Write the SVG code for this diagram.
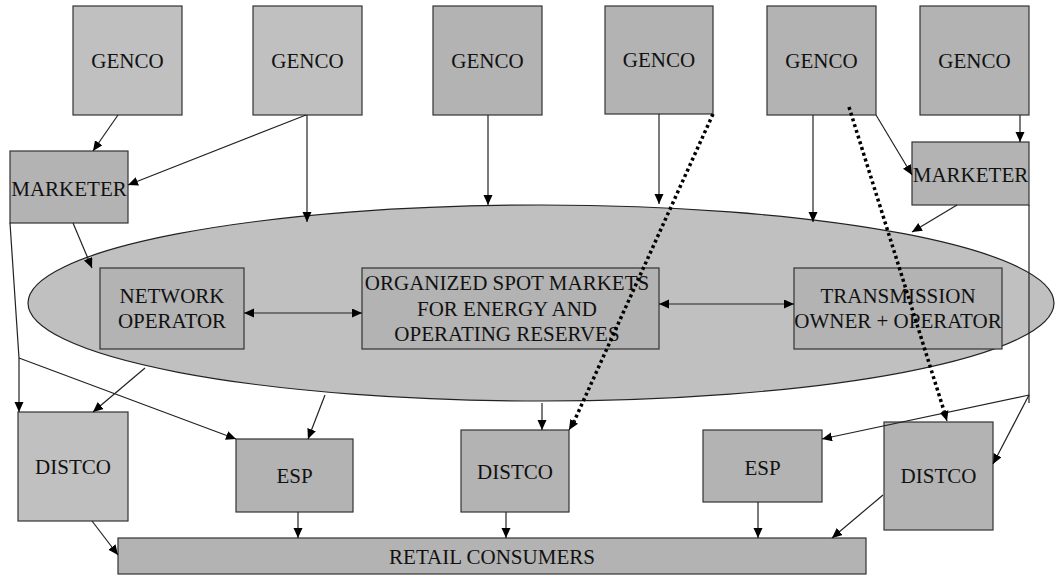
<svg xmlns="http://www.w3.org/2000/svg" width="1055" height="576" viewBox="0 0 1055 576">
<style>
.lt{fill:#c0c0c0;stroke:#333;stroke-width:1.2}
.dk{fill:#b3b3b3;stroke:#333;stroke-width:1.2}
.t{font-family:'Liberation Serif','Times New Roman','DejaVu Serif','Noto Serif',serif;font-size:21px;fill:#111;text-anchor:middle}
.c{fill:none;stroke:#222;stroke-width:1.2}
.d{fill:none;stroke:#000;stroke-width:3.5;stroke-dasharray:3 3}
</style>
<defs>
<marker id="a" markerUnits="userSpaceOnUse" markerWidth="11" markerHeight="10" refX="10" refY="4.5" orient="auto-start-reverse">
<path d="M0,0 L10,4.5 L0,9 z" fill="#000"/>
</marker>
</defs>
<rect width="1055" height="576" fill="#fff"/>
<g id="market">
<ellipse cx="541" cy="303" rx="513" ry="98" fill="#c0c0c0" stroke="#222" stroke-width="1.2"/>
</g>
<g class="t" font-family="Liberation Serif, Times New Roman, serif">
<g id="genco1"><rect class="lt" x="73" y="6" width="109" height="109"/><text x="127.5" y="68">GENCO</text></g>
<g id="genco2"><rect class="lt" x="253" y="6" width="109" height="109"/><text x="307.5" y="68">GENCO</text></g>
<g id="genco3"><rect class="dk" x="433" y="6" width="109" height="109"/><text x="487.5" y="68">GENCO</text></g>
<g id="genco4"><rect class="dk" x="605" y="6" width="108" height="108"/><text x="659" y="67">GENCO</text></g>
<g id="genco5"><rect class="dk" x="767" y="6" width="109" height="109"/><text x="821.5" y="68">GENCO</text></g>
<g id="genco6"><rect class="dk" x="920" y="6" width="109" height="109"/><text x="974.5" y="68">GENCO</text></g>
<g id="marketer1"><rect class="dk" x="10" y="151" width="118" height="72"/><text x="69" y="196">MARKETER</text></g>
<g id="marketer2"><rect class="dk" x="912" y="142" width="117" height="63"/><text x="970.5" y="182">MARKETER</text></g>
<g id="netop"><rect class="dk" x="100" y="268" width="144" height="81"/><text x="172" y="303">NETWORK</text><text x="172" y="328">OPERATOR</text></g>
<g id="spot"><rect class="dk" x="362" y="268" width="297" height="81"/><text x="507" y="290">ORGANIZED SPOT MARKETS</text><text x="507" y="316">FOR ENERGY AND</text><text x="507" y="341">OPERATING RESERVES</text></g>
<g id="trans"><rect class="dk" x="794" y="268" width="208" height="81"/><text x="898" y="303">TRANSMISSION</text><text x="898" y="328">OWNER + OPERATOR</text></g>
<g id="distco1"><rect class="lt" x="18" y="412" width="110" height="109"/><text x="73" y="474">DISTCO</text></g>
<g id="esp1"><rect class="dk" x="236" y="439" width="117" height="73"/><text x="294.5" y="483">ESP</text></g>
<g id="distco2"><rect class="dk" x="461" y="430" width="108" height="82"/><text x="515" y="479">DISTCO</text></g>
<g id="esp2"><rect class="dk" x="703" y="430" width="119" height="72"/><text x="762.5" y="475">ESP</text></g>
<g id="distco3"><rect class="dk" x="884" y="422" width="109" height="108"/><text x="938.5" y="483">DISTCO</text></g>
<g id="retail"><rect class="dk" x="118" y="538" width="748" height="36"/><text x="492" y="564">RETAIL CONSUMERS</text></g>
</g>
<g id="connectors">
<path class="c" d="M118,115 L93,151" marker-end="url(#a)"/>
<path class="c" d="M306,115 L128,185" marker-end="url(#a)"/>
<path class="c" d="M307,115 L307,222" marker-end="url(#a)"/>
<path class="c" d="M488,115 L488,205" marker-end="url(#a)"/>
<path class="c" d="M659,114 L659,204" marker-end="url(#a)"/>
<path class="c" d="M813,115 L813,222" marker-end="url(#a)"/>
<path class="c" d="M876,115 L912,175" marker-end="url(#a)"/>
<path class="c" d="M1020,115 L1020,142" marker-end="url(#a)"/>
<path class="c" d="M957,205 L912,232" marker-end="url(#a)"/>
<path class="c" d="M73,223 L92,268" marker-end="url(#a)"/>
<path class="c" d="M10,223 L19,358 L19,412" marker-end="url(#a)"/>
<path class="c" d="M19,358 L236,439" marker-end="url(#a)"/>
<path class="c" d="M145,368 L93,412" marker-end="url(#a)"/>
<path class="c" d="M325,395 L308,439" marker-end="url(#a)"/>
<path class="c" d="M542,403 L542,430" marker-end="url(#a)"/>
<path class="c" d="M244,313 L362,313" marker-start="url(#a)" marker-end="url(#a)"/>
<path class="c" d="M659,304 L794,304" marker-start="url(#a)" marker-end="url(#a)"/>
<path class="c" d="M1029,205 L1029,403"/>
<path class="c" d="M1029,395 L822,439" marker-end="url(#a)"/>
<path class="c" d="M1029,395 L993,464" marker-end="url(#a)"/>
<path class="c" d="M92,521 L118,555" marker-end="url(#a)"/>
<path class="c" d="M298,512 L298,538" marker-end="url(#a)"/>
<path class="c" d="M506,512 L506,538" marker-end="url(#a)"/>
<path class="c" d="M758,502 L758,538" marker-end="url(#a)"/>
<path class="c" d="M883,495 L832,538" marker-end="url(#a)"/>
<path class="d" d="M713,114 L572,426"/>
<path class="c" d="M575,420 L569,430" marker-end="url(#a)"/>
<path class="d" d="M849,107 L945,414"/>
<path class="c" d="M944,411 L947,421" marker-end="url(#a)"/>
</g>
</svg>
